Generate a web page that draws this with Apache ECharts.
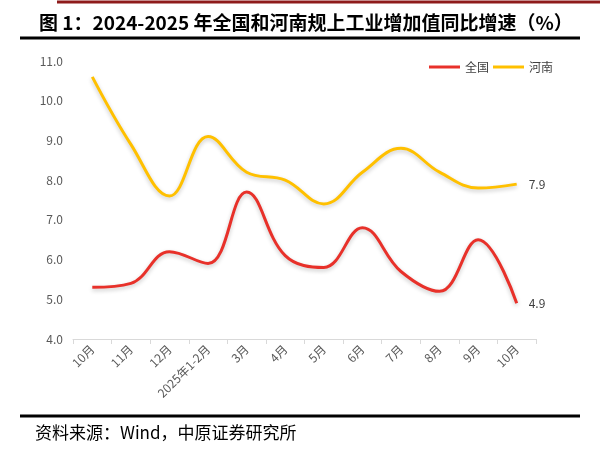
<!DOCTYPE html>
<html>
<head>
<meta charset="utf-8">
<script src="https://cdn.jsdelivr.net/npm/echarts@6/dist/echarts.min.js"></script>
<style>
  html, body { margin: 0; padding: 0; background: #fff; }
  #chart { width: 600px; height: 454px; }
</style>
</head>
<body>
<div id="chart"></div>
<script>
// 横轴月份
const months = ["10月", "11月", "12月", "2025年1-2月", "3月", "4月", "5月", "6月", "7月", "8月", "9月", "10月"];
// 全国规上工业增加值同比（%）
const national = [5.3, 5.4, 6.2, 5.9, 7.7, 6.1, 5.8, 6.8, 5.7, 5.2, 6.5, 4.9];
// 河南规上工业增加值同比（%）
const henan = [10.6, 8.9, 7.6, 9.1, 8.2, 8.0, 7.4, 8.2, 8.8, 8.2, 7.8, 7.9];

const cjk = '"Noto Sans CJK SC", "Noto Sans", sans-serif';

var myChart = echarts.init(document.getElementById("chart"));

// 只在末尾显示数值
const endLabel = {
  show: true,
  distance: 12,
  color: "#404040",
  fontSize: 12,
  fontFamily: cjk,
  formatter: (p) => Number(p.value).toFixed(1),
};

const shadow = {
  shadowColor: "rgba(0,0,0,0.22)",
  shadowBlur: 4,
  shadowOffsetY: 2,
};

myChart.setOption({
  animation: false,
  textStyle: { fontFamily: cjk },
  title: {
    text: "图 1：2024-2025 年全国和河南规上工业增加值同比增速（%）",
    left: 34,
    top: 8,
    textStyle: { fontSize: 19, fontWeight: "bold", color: "#000", fontFamily: cjk },
  },
  graphic: [
    // 顶部暗红线
    { type: "line", shape: { x1: 57, y1: 2, x2: 600, y2: 2 }, style: { stroke: "#8E1B1B", lineWidth: 3 } },
    // 标题下黑线
    { type: "line", shape: { x1: 20, y1: 38, x2: 580, y2: 38 }, style: { stroke: "#000", lineWidth: 3 } },
    // 底部黑线
    { type: "line", shape: { x1: 20, y1: 416, x2: 580, y2: 416 }, style: { stroke: "#000", lineWidth: 3 } },
    {
      type: "text",
      left: 35,
      top: 424,
      style: { text: "资料来源：Wind，中原证券研究所", fill: "#000", font: "17px " + cjk },
    },
  ],
  legend: {
    data: ["全国", "河南"],
    left: 424,
    top: 56,
    icon: "rect",
    itemWidth: 31,
    itemHeight: 3,
    itemGap: 4,
    textStyle: { color: "#404040", fontSize: 12 },
  },
  grid: {
    left: 73,
    right: 64,
    top: 61,
    bottom: 115,
  },
  xAxis: {
    type: "category",
    data: months,
    boundaryGap: true,
    axisLine: { lineStyle: { color: "#d9d9d9" } },
    axisTick: { show: true, length: 5, lineStyle: { color: "#d9d9d9" } },
    axisLabel: {
      interval: 0,
      rotate: 45,
      color: "#595959",
      fontSize: 12,
      margin: 8,
    },
  },
  yAxis: {
    type: "value",
    min: 4,
    max: 11,
    interval: 1,
    axisLine: { show: false },
    axisTick: { show: false },
    splitLine: { show: false },
    axisLabel: {
      color: "#595959",
      fontSize: 12,
      margin: 10,
      formatter: (v) => v.toFixed(1),
    },
  },
  series: [
    {
      name: "全国",
      type: "line",
      data: national,
      smooth: 0.4,
      showSymbol: false,
      color: "#E8312A",
      lineStyle: Object.assign({ width: 3, color: "#E8312A" }, shadow),
      endLabel: endLabel,
    },
    {
      name: "河南",
      type: "line",
      data: henan,
      smooth: 0.4,
      showSymbol: false,
      color: "#FFC000",
      lineStyle: Object.assign({ width: 3, color: "#FFC000" }, shadow),
      endLabel: endLabel,
    },
  ],
});
window.addEventListener("resize", () => {
  myChart.resize();
});
</script>
</body>
</html>
